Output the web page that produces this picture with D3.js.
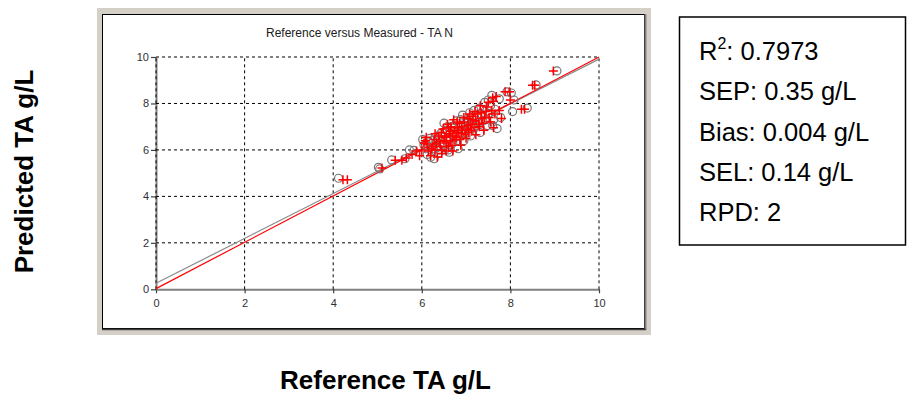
<!DOCTYPE html>
<html>
<head>
<meta charset="utf-8">
<script src="https://cdn.jsdelivr.net/npm/d3@7"></script>
<style>
  html, body { margin: 0; padding: 0; background: #ffffff; }
  svg { display: block; font-family: Arial, "Liberation Sans", sans-serif; }
</style>
</head>
<body>
<svg id="chart" width="907" height="394"></svg>
<script>
// Axis ticks
const xTicks = [0, 2, 4, 6, 8, 10];
const yTicks = [0, 2, 4, 6, 8, 10];

// Sample set drawn as open grey circles: reference vs predicted (g/L)
const circleRef  = [4.12, 5.02, 5.05, 5.32, 5.62, 5.72, 5.82, 6.02, 6.05, 6.10, 6.15, 6.20, 6.25, 6.28, 6.30, 6.35, 6.38, 6.42, 6.45, 6.50,
                    6.52, 6.55, 6.60, 6.62, 6.68, 6.70, 6.75, 6.78, 6.82, 6.85, 6.90, 6.92, 6.95, 7.00, 7.02, 7.08, 7.10, 7.15, 7.20, 7.25,
                    7.30, 7.32, 7.38, 7.42, 7.48, 7.50, 7.58, 7.62, 7.65, 7.70, 7.75, 7.78, 7.92, 8.02, 8.05, 8.08, 8.38, 8.58, 9.05,
                    6.18, 6.32, 6.40, 6.48, 6.58, 6.64, 6.72, 6.80, 6.88, 6.98, 7.05, 7.12, 7.18, 7.28, 7.35, 7.45, 7.55, 7.60,
                    6.12, 6.26, 6.42, 6.60, 6.76, 6.94, 7.06, 7.22, 7.40, 7.50];
const circlePred = [4.78, 5.25, 5.18, 5.57, 5.62, 6.00, 5.98, 6.45, 6.20, 6.05, 6.35, 5.68, 6.40, 5.62, 6.55, 6.10, 5.85, 6.70, 6.25, 7.15,
                    6.00, 6.85, 6.50, 5.90, 7.00, 6.30, 6.75, 7.25, 6.05, 6.60, 7.05, 7.50, 6.40, 6.85, 7.30, 7.60, 6.60, 7.15, 6.95, 7.45,
                    7.80, 6.75, 7.25, 8.05, 7.05, 7.55, 8.35, 7.30, 7.75, 6.92, 8.20, 7.40, 8.50, 8.45, 7.65, 8.15, 7.80, 8.80, 9.40,
                    6.50, 6.30, 6.00, 6.55, 7.00, 6.20, 6.95, 6.40, 7.30, 7.15, 6.75, 7.40, 7.70, 7.20, 7.55, 7.30, 7.90, 7.05,
                    5.80, 6.05, 6.45, 6.00, 6.55, 6.90, 7.05, 7.05, 7.75, 8.15];

// Sample set drawn as red crosses: reference vs predicted (g/L)
const crossRef  = [4.22, 4.32, 5.10, 5.40, 5.55, 5.65, 5.78, 5.88, 5.95, 6.00, 6.05, 6.10, 6.15, 6.20, 6.25, 6.30, 6.35, 6.40, 6.45, 6.48,
                   6.55, 6.58, 6.60, 6.65, 6.70, 6.72, 6.75, 6.80, 6.85, 6.88, 6.90, 6.95, 7.00, 7.05, 7.08, 7.12, 7.15, 7.20, 7.22, 7.28,
                   7.32, 7.35, 7.40, 7.45, 7.50, 7.55, 7.60, 7.62, 7.65, 7.68, 7.75, 7.80, 7.88, 7.98, 8.00, 8.25, 8.32, 8.50, 8.55, 8.97,
                   6.22, 6.28, 6.33, 6.38, 6.42, 6.44, 6.50, 6.52, 6.56, 6.60, 6.62, 6.64, 6.66, 6.70, 6.74, 6.78, 6.80, 6.82, 6.86, 6.90,
                   6.92, 6.96, 6.98, 7.02, 7.04, 7.06, 7.10, 7.14, 7.18, 7.22, 7.26, 7.30, 7.34, 7.38, 7.42, 7.46, 7.52, 7.58, 7.62,
                   6.45, 6.55, 6.68, 6.30, 6.12, 6.08];
const crossPred = [4.72, 4.72, 5.22, 5.55, 5.55, 5.65, 5.80, 5.95, 5.75, 6.00, 6.30, 6.55, 5.95, 5.75, 6.15, 6.70, 5.70, 6.35, 6.00, 6.90,
                   6.60, 7.10, 6.15, 6.80, 5.95, 7.30, 6.45, 6.95, 7.15, 6.20, 6.70, 7.40, 6.50, 7.05, 7.55, 6.85, 7.30, 7.65, 6.65, 7.10,
                   7.90, 7.35, 6.85, 7.65, 8.05, 7.20, 8.25, 6.95, 7.55, 8.30, 7.70, 7.35, 8.50, 8.50, 8.15, 7.75, 7.75, 8.78, 8.78, 9.40,
                   6.05, 6.45, 6.25, 6.60, 6.15, 6.75, 6.40, 6.55, 6.30, 6.95, 6.70, 6.40, 7.00, 6.60, 6.85, 6.55, 7.20, 6.75, 6.45, 7.00,
                   6.85, 7.20, 6.65, 6.90, 7.35, 6.75, 7.10, 7.45, 6.95, 7.25, 7.55, 7.00, 7.60, 7.15, 7.40, 7.85, 7.40, 7.70, 8.10,
                   5.85, 5.95, 6.20, 6.00, 6.25, 6.40];

// Fitted line (grey) and target line (red), as [x, y] end points
const fitLine    = [[0, 0.26], [10, 9.91]];
const targetLine = [[0, 0.03], [10, 10.0]];

// Statistics panel
const statNames  = ["R", "SEP", "Bias", "SEL", "RPD"];
const statValues = ["0.7973", "0.35 g/L", "0.004 g/L", "0.14 g/L", "2"];

const svg = d3.select("#chart");

// Window frame around the plot
svg.append("rect").attr("x", 97).attr("y", 8).attr("width", 554).attr("height", 327)
  .attr("fill", "#d4d0c8");
svg.append("rect").attr("x", 102.5).attr("y", 14.5).attr("width", 542).attr("height", 314)
  .attr("fill", "#ffffff").attr("stroke", "#000000").attr("stroke-width", 1);
svg.append("line").attr("x1", 645.5).attr("y1", 14).attr("x2", 645.5).attr("y2", 330)
  .attr("stroke", "#808080").attr("stroke-width", 2);
svg.append("line").attr("x1", 102).attr("y1", 329.5).attr("x2", 646).attr("y2", 329.5)
  .attr("stroke", "#404040").attr("stroke-width", 1.5);

const x = d3.scaleLinear().domain([0, 10]).range([156, 599]);
const y = d3.scaleLinear().domain([0, 10]).range([289.3, 57]);

// Title
svg.append("text").attr("x", 359.5).attr("y", 37).attr("text-anchor", "middle")
  .attr("font-size", 12).attr("fill", "#202020")
  .text("Reference versus Measured - TA N");

// Axes
const xAxis = svg.append("g").attr("transform", `translate(0,${y(0)})`)
  .call(d3.axisBottom(x).tickValues(xTicks).tickSize(4).tickPadding(4).tickSizeOuter(0));
const yAxis = svg.append("g").attr("transform", `translate(${x(0)},0)`)
  .call(d3.axisLeft(y).tickValues(yTicks).tickSize(5).tickPadding(2).tickSizeOuter(0));
[xAxis, yAxis].forEach(g => {
  g.select(".domain").attr("stroke", "#808080").attr("stroke-width", 2);
  g.selectAll(".tick line").attr("stroke", "#404040").attr("stroke-width", 1.2);
  g.selectAll(".tick text").attr("font-size", 11).attr("fill", "#303030")
    .attr("font-family", "Arial, 'Liberation Sans', sans-serif");
});
xAxis.selectAll(".tick text").attr("dy", "0.9em");

// Dashed grid
const grid = svg.append("g").attr("stroke", "#000000").attr("stroke-width", 1)
  .attr("stroke-dasharray", "3,3");
grid.selectAll("line.v").data(xTicks).join("line").attr("class", "v")
  .attr("x1", d => x(d)).attr("x2", d => x(d)).attr("y1", y(0)).attr("y2", y(10));
grid.selectAll("line.h").data(yTicks.filter(d => d > 0)).join("line").attr("class", "h")
  .attr("x1", x(0)).attr("x2", x(10)).attr("y1", d => y(d)).attr("y2", d => y(d));

// Reference lines
const line = d3.line().x(d => x(d[0])).y(d => y(d[1]));
svg.append("path").datum(fitLine).attr("d", line).attr("fill", "none")
  .attr("stroke", "#8a8a8a").attr("stroke-width", 1.2);
svg.append("path").datum(targetLine).attr("d", line).attr("fill", "none")
  .attr("stroke", "#ff0000").attr("stroke-width", 1.2);

// Open circles
svg.append("g").selectAll("circle").data(circleRef).join("circle")
  .attr("cx", d => x(d)).attr("cy", (d, i) => y(circlePred[i])).attr("r", 4)
  .attr("fill", "none").attr("stroke", "#777777").attr("stroke-width", 1.2);

// Red crosses
svg.append("g").selectAll("path").data(crossRef).join("path")
  .attr("transform", (d, i) => `translate(${x(d)},${y(crossPred[i])})`)
  .attr("d", "M-4.5,0H4.5M0,-4.5V4.5")
  .attr("fill", "none").attr("stroke", "#ff0000").attr("stroke-width", 1.5);

// Axis titles
svg.append("text").attr("x", 385.5).attr("y", 389).attr("text-anchor", "middle")
  .attr("font-size", 26).attr("font-weight", "bold").attr("fill", "#000")
  .text("Reference TA g/L");
svg.append("text").attr("transform", "translate(33,171.5) rotate(-90)")
  .attr("text-anchor", "middle").attr("font-size", 26).attr("font-weight", "bold").attr("fill", "#000")
  .text("Predicted TA g/L");

// Statistics box
svg.append("rect").attr("x", 679.5).attr("y", 17).attr("width", 226).attr("height", 228)
  .attr("fill", "#ffffff").attr("stroke", "#000000").attr("stroke-width", 1.5);
const stats = svg.append("g").attr("font-size", 25.5).attr("fill", "#000");
statNames.forEach((name, i) => {
  const t = stats.append("text").attr("x", 699).attr("y", 60 + i * 40.3);
  t.append("tspan").text(name);
  if (i === 0) {
    t.append("tspan").attr("font-size", 16).attr("dy", -11).text("2");
    t.append("tspan").attr("dy", 11).text(": " + statValues[i]);
  } else {
    t.append("tspan").text(": " + statValues[i]);
  }
});
</script>
</body>
</html>
